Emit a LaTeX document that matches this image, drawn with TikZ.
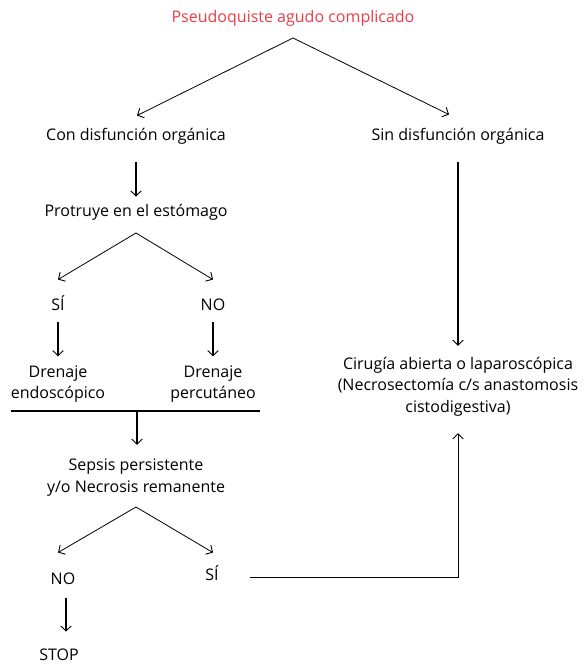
\documentclass[tikz,border=0pt]{standalone}
\usepackage{fontspec}
\setmainfont{Open Sans}
\usetikzlibrary{arrows.meta}
\definecolor{titelrot}{RGB}{232,62,70}

\begin{document}
\begin{tikzpicture}[x=1pt, y=-1pt,
	every node/.style={font=\fontsize{16}{21.5}\selectfont, inner sep=2pt, align=center},
	zeile/.style={text height=11pt, text depth=3.5pt},
	pfeil/.style={->, >={Straight Barb[length=5pt,width=10.5pt,line width=0.9pt]}, line width=0.8pt},
	senk/.style={pfeil, line width=1.5pt}]

	\useasboundingbox (0,0) rectangle (587,667);

	\node[zeile, text=titelrot] (titulo) at (293,19) {Pseudoquiste agudo complicado};
	\node[zeile] (con) at (136,137) {Con disfunción orgánica};
	\node[zeile] (sin) at (458,137) {Sin disfunción orgánica};
	\node[zeile] (prot) at (136,213) {Protruye en el estómago};
	\node[zeile] (si1) at (58,307) {SÍ};
	\node[zeile] (no1) at (213,307) {NO};
	\node (drendo) at (58,384) {Drenaje\\endoscópico};
	\node (drperc) at (213,384) {Drenaje\\percutáneo};
	\node (sepsis) at (136,477.5) {Sepsis persistente\\y/o Necrosis remanente};
	\node[zeile] (no2) at (63,581) {NO};
	\node[zeile] (si2) at (212,577) {SÍ};
	\node[zeile] (stop) at (59,657) {STOP};
	\node (cirugia) at (458,386.5) {Cirugía abierta o laparoscópica\\(Necrosectomía c/s anastomosis\\cistodigestiva)};

	% Verzweigungen
	\coordinate (a1) at (293,38);
	\coordinate (a2) at (136,233);
	\coordinate (a3) at (136,507);
	\coordinate (balkenL) at (11,411);
	\coordinate (balkenR) at (260,411);
	\coordinate (balkenM) at (137,411);

	\draw[pfeil] (a1) -- ([xshift=1pt, yshift=12pt]con.north);
	\draw[pfeil] (a1) -- ([xshift=-9pt, yshift=13pt]sin.north);
	\draw[senk, shorten <=16pt, shorten >=7pt] (con) -- (prot);

	\draw[pfeil] (a2) -- ([yshift=18pt]si1.north);
	\draw[pfeil] (a2) -- ([yshift=18pt]no1.north);
	\draw[senk, shorten <=6pt, shorten >=7pt] (si1) -- (drendo);
	\draw[senk, shorten <=6pt, shorten >=7pt] (no1) -- (drperc);

	\draw[line width=1.6pt] (balkenL) -- (balkenR);
	\draw[senk] (balkenM) -- ([xshift=1pt, yshift=12pt]sepsis.north);

	\draw[pfeil] (a3) -- ([xshift=-5pt, yshift=19pt]no2.north);
	\draw[pfeil] (a3) -- ([xshift=1pt, yshift=15pt]si2.north);
	\draw[senk] ([xshift=3pt, yshift=-8pt]no2.south) -- ([xshift=7pt, yshift=16pt]stop.north);

	\draw[senk, shorten <=16pt, shorten >=9pt] (sin) -- (cirugia);
	\draw[pfeil, line width=1pt] ([xshift=29pt]si2.east) -| ([yshift=-15pt]cirugia.south);
\end{tikzpicture}
\end{document}
